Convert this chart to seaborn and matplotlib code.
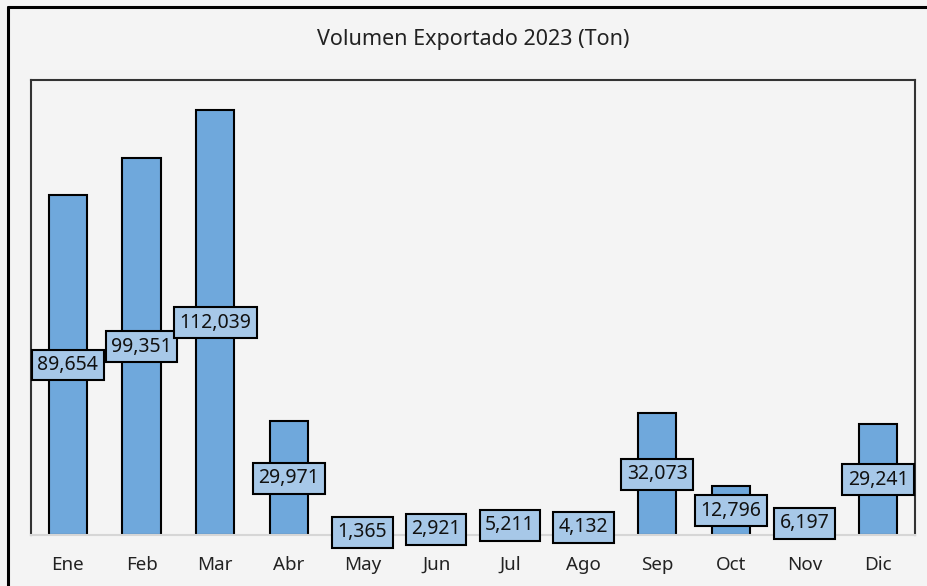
import matplotlib
matplotlib.use('Agg')
import matplotlib.pyplot as plt
import seaborn as sns
from matplotlib.lines import Line2D

meses = ['Ene', 'Feb', 'Mar', 'Abr', 'May', 'Jun', 'Jul', 'Ago', 'Sep', 'Oct', 'Nov', 'Dic']
volumen = [89654, 99351, 112039, 29971, 1365, 2921, 5211, 4132, 32073, 12796, 6197, 29241]
titulo = 'Volumen Exportado 2023 (Ton)'

bg = '#f4f4f4'
sns.set_style('white')
plt.rcParams['font.family'] = ['Noto Sans', 'DejaVu Sans']

fig = plt.figure(figsize=(9.27, 5.86), dpi=100, facecolor=bg)
ax = fig.add_axes([31 / 927, 51 / 586, 884 / 927, 455 / 586])
ax.set_facecolor(bg)

sns.barplot(x=meses, y=volumen, color='#6fa8dc', width=0.52, saturation=1,
            edgecolor='black', linewidth=1.5, ax=ax)

ax.set_ylim(0, 120000)
ax.set_yticks([])
ax.set_ylabel('')
ax.tick_params(axis='x', length=0, pad=15, labelsize=13.5, colors='#222222')

for i, v in enumerate(volumen):
    ax.text(i, v / 2, f'{v:,}', ha='center', va='center', fontsize=14, color='#111111',
            bbox=dict(boxstyle='square,pad=0.28', fc='#a7c8e8', ec='black', lw=1.5))

for s in ['top', 'left', 'right']:
    ax.spines[s].set_color('#333333')
    ax.spines[s].set_linewidth(1.5)
ax.spines['bottom'].set_color('#d6d6d6')
ax.spines['bottom'].set_linewidth(1.5)

fig.text(473 / 927, 1 - 40 / 586, titulo, ha='center', va='center', fontsize=15.5, color='#222222')

# borde exterior (solo arriba e izquierda visibles)
fig.add_artist(Line2D([8 / 927, 1], [1 - 7 / 586, 1 - 7 / 586], color='black', lw=2.2))
fig.add_artist(Line2D([8 / 927, 8 / 927], [0, 1 - 7 / 586], color='black', lw=2.2))

fig.savefig('out.png', dpi=100, facecolor=bg)
